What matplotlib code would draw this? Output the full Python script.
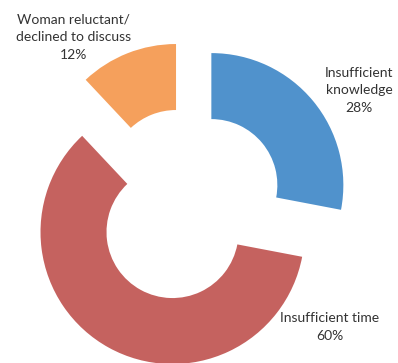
import matplotlib
matplotlib.use('Agg')
import matplotlib.pyplot as plt

# data
categories = ['Insufficient\nknowledge', 'Insufficient time', 'Woman reluctant/\ndeclined to discuss']
values = [28, 60, 12]
colors = ['#5092CC', '#C5625F', '#F5A05C']

plt.rcParams['font.family'] = ['Lato', 'DejaVu Sans']

fig = plt.figure(figsize=(3.98, 3.63), dpi=100)
ax = fig.add_axes([0, 0, 1, 1])

ax.pie(values, colors=colors, startangle=90, counterclock=False,
       explode=[0.235] * 3, radius=1,
       wedgeprops=dict(width=0.5, edgecolor='none'))

# label positions (data coords)
label_pos = [(1.30, 0.87), (1.08, -0.926), (-0.864, 1.271)]
for cat, v, (x, y) in zip(categories, values, label_pos):
    ax.text(x, y, f'{cat}\n{v}%', ha='center', va='center', fontsize=10,
            color='#333333', linespacing=1.55)

ax.set_xlim(-1.420, 1.595)
ax.set_ylim(-1.198, 1.552)
ax.set_aspect('equal')
ax.axis('off')

fig.savefig('out.png', dpi=100)
